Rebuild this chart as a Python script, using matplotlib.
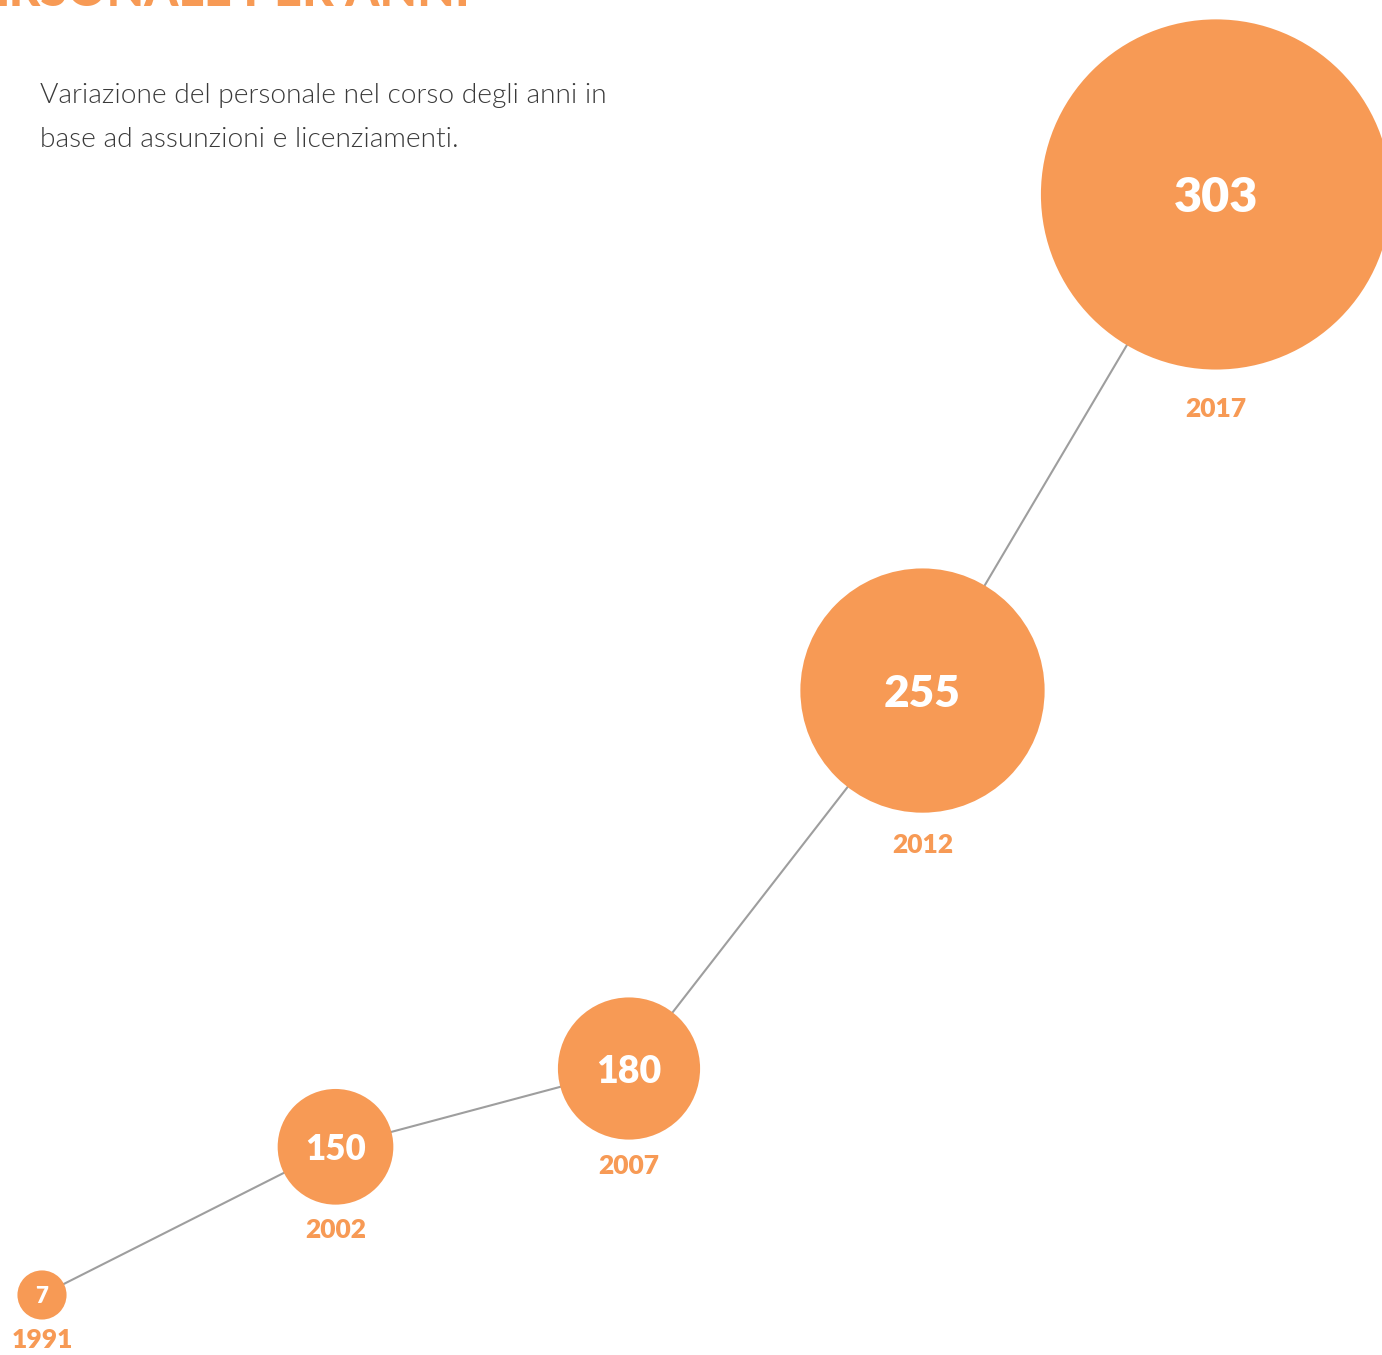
import numpy as np
import matplotlib
matplotlib.use("Agg")
import matplotlib.pyplot as plt

# data
years = ["1991", "2002", "2007", "2012", "2017"]
staff = [7, 150, 180, 255, 303]

title = "PERSONALE PER ANNI"
subtitle = "Variazione del personale nel corso degli anni in\nbase ad assunzioni e licenziamenti."

ORANGE = "#F79A55"
GREY_LINE = "#9E9E9E"
TEXT_DARK = "#3A3A3A"

W, H, DPI = 1382, 1355, 100
PX = 72.0 / DPI  # points per pixel

plt.rcParams["font.family"] = ["Lato", "DejaVu Sans"]

# vertical position grows exponentially with the head count
B = 0.012
def fwd(v):
    return np.exp(B * np.asarray(v, dtype=float))

def inv(e):
    return np.log(np.clip(np.asarray(e, dtype=float), 1e-9, None)) / B

# bubble radius (pixels) and label size driven by the value
def radius_px(v):
    return 14.71 * np.exp(0.008 * np.asarray(v, dtype=float)) + 9.0

def value_fontsize(v):
    return 15.5 + 0.064 * v


fig = plt.figure(figsize=(W / DPI, H / DPI), dpi=DPI)
fig.patch.set_facecolor("white")

bottom = 57.4 / H
ax = fig.add_axes([0, bottom, 1, 1 - bottom])
ax.set_yscale("function", functions=(fwd, inv))
# one step per year label, ~293 px apart
ax.set_xlim(-42 / 293.5, (W - 42) / 293.5)
ax.set_ylim(0, 316.2)
ax.axis("off")

x = np.arange(len(years))
r = radius_px(staff)

ax.plot(x, staff, color=GREY_LINE, lw=1.5, zorder=1, clip_on=False)
ax.scatter(x, staff, s=(2 * r * PX) ** 2, color=ORANGE, edgecolors="none",
           zorder=2, clip_on=False)

for xi, v, yr, ri in zip(x, staff, years, r):
    ax.text(xi, v, str(v), color="white", fontsize=value_fontsize(v),
            fontweight="heavy", ha="center", va="center_baseline", zorder=3)
    ax.annotate(yr, (xi, v), xytext=(0, -(1.12 * ri + 18) * PX),
                textcoords="offset points", color=ORANGE, fontsize=19,
                fontweight="heavy", ha="center", va="center", zorder=3,
                annotation_clip=False)

# title (cut by the top edge in the original) and description
fig.text(470 / W, 1 - 6 / H, title, color=ORANGE, fontsize=35,
         fontweight="black", ha="right", va="baseline")
fig.text(40 / W, 1 - 147 / H, subtitle, color=TEXT_DARK, fontsize=20.25,
         fontweight=300, ha="left", va="baseline", linespacing=1.93)

fig.savefig("out.png", dpi=DPI, facecolor="white")
